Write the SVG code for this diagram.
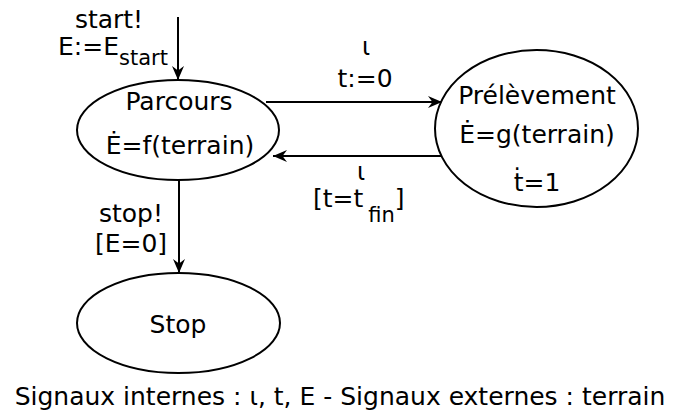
<svg xmlns="http://www.w3.org/2000/svg" width="678" height="412" viewBox="0 0 678 412">
<style>
text{font-family:"DejaVu Sans",sans-serif;font-size:25px;fill:#000;text-anchor:middle}
.sub{font-size:21px}
.st{fill:none;stroke:#000;stroke-width:2}
.e{fill:#fff;stroke:#000;stroke-width:2}
</style>
<defs>
<marker id="ah" markerWidth="16" markerHeight="14" refX="14" refY="6" orient="auto" markerUnits="userSpaceOnUse">
<path d="M14,6 L0,0 L4.5,6 L0,12 Z" fill="#000"/>
</marker>
</defs>
<g id="connectors">
<line class="st" x1="178" y1="17" x2="178" y2="80" marker-end="url(#ah)"/>
<line class="st" x1="266" y1="102" x2="442" y2="102" marker-end="url(#ah)"/>
<line class="st" x1="441" y1="156" x2="273" y2="156" marker-end="url(#ah)"/>
<line class="st" x1="179" y1="180" x2="179" y2="273" marker-end="url(#ah)"/>
<text x="109" y="28">start!</text>
<text x="58" y="55" style="text-anchor:start">E:=E<tspan class="sub" dy="10">start</tspan></text>
<text x="366" y="55" style="font-size:24px">ι</text>
<text x="365" y="87">t:=0</text>
<text x="361" y="180" style="font-size:24px">ι</text>
<text x="313" y="207" style="text-anchor:start">[t=t<tspan class="sub" dx="5" dy="15">fin</tspan><tspan dy="-15">]</tspan></text>
<text x="131" y="222">stop!</text>
<text x="131" y="252">[E=0]</text>
</g>
<g id="parcours">
<ellipse class="e" cx="178" cy="130" rx="101" ry="50"/>
<text x="179" y="110">Parcours</text>
<text x="180" y="154">Ė=f(terrain)</text>
</g>
<g id="prelevement">
<ellipse class="e" cx="536.5" cy="128.5" rx="101.5" ry="78.5"/>
<text x="537" y="104">Prélèvement</text>
<text x="537" y="143">Ė=g(terrain)</text>
<text x="537" y="191">ṫ=1</text>
</g>
<g id="stop">
<ellipse class="e" cx="178.5" cy="323" rx="101.5" ry="50"/>
<text x="178" y="333">Stop</text>
</g>
<text x="340" y="405">Signaux internes : ι, t, E - Signaux externes : terrain</text>
</svg>
